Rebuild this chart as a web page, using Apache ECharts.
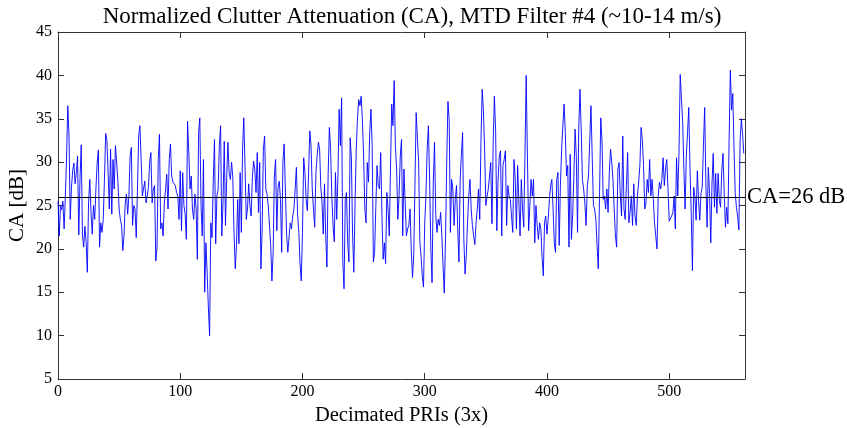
<!DOCTYPE html>
<html><head><meta charset="utf-8">
<script src="https://cdn.jsdelivr.net/npm/echarts@6/dist/echarts.min.js"></script>
<style>html,body{margin:0;padding:0;background:#fff}#c{width:847px;height:428px}</style>
</head><body><div id="c"></div>
<script>
const xTicks = [0, 100, 200, 300, 400, 500];
const yTicks = [5, 10, 15, 20, 25, 30, 35, 40, 45];
const caRef = 26;
const seg1 = [25.5,21.5,25,24.5,25.5,22.3,26,30.5,36.5,33,23.4,27,29,29.9,27.5,28.8,30.7,21.6,28,32,21.6,20.2,22.6,20.8,17.3,25.3,28,24.2,21.7,25,23.4,26.9,29.8,31.4,20.2,23,21.9,23.4,28,33.3,32.5,28.8,24.6,31.5,24,30.3,26.9,31.9];
const seg2 = [31.9,27.8,24.6,23.4,22.7,19.8,21.5,25.3,26.3,24,26.1,30.7,31.7,22.7,25,24.6,21.3,26.9,33,34.2,30.3,26.1,25.9,27.8,25.3,26.1,27.1,30,31.1,25.3,26.9,27.3,18.6,20.2,30.3,33.2,22.3,23,21.5,25.3,26.9,28.6,24.6,30.3,32.1,28.4,27.7];
const seg3 = [27.8,27.3,26.5,26.1,23.4,29,22.1,28.8,25,24,21.1,34.7,31.1,26.9,28.4,24.6,23.4,26.3,24.6,18.8,33.4,35.1,25,21.5,30.3,15,20.7,17.3,13.3,10,23,21.3,27.7,32.6,20.6,26.1,26.9,31.9,34.2,21.5,25.3,32.4,22.7,28.2,32.3,28.8,28];
const seg4 = [30,28.2,21.9,17.7,20.4,25.7,20.6,28.8,21.9,31.7,35.1,29.4,23.4,24.6,27.5,25,23.8,28.2,30.1,29.2,26.5,31.1,24.2,29.95,17.7,22.3,31.5,33,26.9,26.3,25,25,20.4,16.3,19.6,28.4,30.3,22.1,27.1,27.8,25.7,19.6,30.1,32.1,26.9,21.7,19.6];
const seg5 = [19.6,23,22.3,23.8,24.6,26.9,29.4,24,21.9,18.3,16.3,21.9,30.5,28.8,25.7,24.4,28.8,33.6,31.9,26.9,24.6,22.5,28.8,30.7,32.3,31.5,27.1,25.3,21.7,27.5,21.5,17.9,28.6,34,31.5,26.1,22.7,20.8,28.8,23.4,28.4,36.1,31.9,37.4,18.5,15.4,25.7];
const seg6 = [26.5,20.7,18.5,32.8,30.5,21.5,17.3,25.3,31.5,35.1,37.2,36.5,37.6,34.9,30.7,24.6,23,29.95,27.7,33.4,36.1,31.9,18.5,19.6,24.9,29.6,27.3,26.9,31.1,23.8,18.8,20.7,18.3,26.5,24.6,21.5,29.2,36.7,34.2,39.4,31.9,29.2,23.4,26.1,30.7,32.6,21.5];
const seg7 = [29.2,25.3,21.5,22.3,22.7,24.6,19.9,16.7,19.2,27.3,35.7,32.8,30.1,20.9,19.2,16.9,15.6,23,26.1,31.5,34.2,28,20,16.1,27.7,32.3,24,21.9,23.4,22.7,24.2,21.5,18.1,14.9,21.1,29.95,37,34.9,21.9,28,26.9,22.7,25.7,27.3,22.3,18.5,28];
const seg8 = [30.9,33.4,21.1,17.1,19.2,23,26.1,28,24.6,22.7,21.5,20.5,23,24.6,26.9,23.4,32.4,38.4,35.9,31.5,25,26.1,26.9,28.4,29.95,22.9,32.3,37.6,33.6,22.1,28,30.7,31.3,21.5,29.6,30.3,31.3,22.7,27.3,26.1,25.7,23.8,21.9,30.3,28.2,22.3,29.6];
const seg9 = [29.6,21.5,28,24.6,22.5,30.7,40,30.7,22.1,25,28,26.1,28,20.7,25,22.7,21.1,23,22.3,19,16.9,23,23.8,21.7,23.4,25.7,27.3,28,24.6,20.7,19.6,28,28.8,20.4,27.3,31.5,34.2,36.7,33.4,28.4,29.6,20.2,30.9,21.1,23.8,28.4,33.8];
const seg10 = [30.7,21.9,33.9,38.4,33.8,28,26.9,25.3,22.7,27.3,28.4,32.6,36.5,30.7,25,24.6,23.4,20.4,17.7,26.3,35.1,32.6,25.7,26.1,24.6,26.9,24.2,28.8,31.5,29.95,28,24.6,21.5,20.2,29.2,29.95,26.1,23.8,33,24.6,23.4,27.3,31.1,23,24.2,26.1,22.7];
const seg11 = [27.5,23.8,22.7,26.1,27.7,29.6,34,32.6,29.6,24.6,25.3,28,26.5,30.3,26.1,28,25.7,23,21.5,20,26.1,27.7,26.9,28,30.5,27.3,29.2,30.3,26.9,23.2,23,23.8,24.2,26.1,22.3,30.5,26.1,31.1,40.1,37.4,34.6,29.2,24.6,30.7,33.4,36.3,29.2];
const seg12 = [24.2,17.5,27.1,26,23.3,29,25.6,23.3,26.4,27.1,31.9,36.3,27.5,22.5,29.4,26.4,20.7,27.5,31,24.8,28.7,24.1,28.7,25.6,24.8,29,31,26.4,22.5,24.8,22.9,32.5,40.6,36,37.9,31.7,26.4,24.8,23.7,22.2,32.5,35,33.3,31];

const ca = [].concat(seg1,seg2,seg3,seg4,seg5,seg6,seg7,seg8,seg9,seg10,seg11,seg12);
const xMax = 562;
const data = ca.map((v, i) => [i, v]);

const serif = "'Liberation Serif', 'DejaVu Serif', serif";
const frame = '#333';
const chart = echarts.init(document.getElementById('c'), null, {renderer: 'canvas'});
const baseX = {
  type: 'value', min: 0, max: xMax, interval: 100,
  axisLine: {show: true, onZero: false, lineStyle: {color: frame, width: 1}},
  axisTick: {show: true, inside: true, length: 6, lineStyle: {color: frame}},
  splitLine: {show: false}
};
const baseY = {
  type: 'value', min: 5, max: 45, interval: 5,
  axisLine: {show: true, onZero: false, lineStyle: {color: frame, width: 1}},
  axisTick: {show: true, inside: true, length: 6, lineStyle: {color: frame}},
  splitLine: {show: false}
};
chart.setOption({
  animation: false,
  backgroundColor: '#fff',
  title: {
    text: 'Normalized Clutter Attenuation (CA), MTD Filter #4 (~10-14 m/s)',
    left: 407, top: 0, textAlign: 'center',
    textStyle: {fontFamily: serif, fontSize: 23, fontWeight: 'normal', color: '#000'}
  },
  grid: {left: 58, right: 102, top: 32, bottom: 49, containLabel: false, outerBoundsMode: 'none'},
  xAxis: [
    Object.assign({}, baseX, {
      position: 'bottom',
      name: 'Decimated PRIs (3x)', nameLocation: 'middle', nameGap: 24,
      nameTextStyle: {fontFamily: serif, fontSize: 20.5, color: '#000'},
      axisLabel: {show: true, margin: 5, fontFamily: serif, fontSize: 16, color: '#000',
        formatter: v => (xTicks.indexOf(v) >= 0 ? String(v) : '')}
    }),
    Object.assign({}, baseX, {position: 'top', axisLabel: {show: false}})
  ],
  yAxis: [
    Object.assign({}, baseY, {
      position: 'left',
      name: 'CA [dB]', nameLocation: 'middle', nameGap: 30, nameRotate: 90,
      nameMoveOverlap: false,
      nameTextStyle: {fontFamily: serif, fontSize: 21, color: '#000'},
      axisLabel: {show: true, margin: 6, fontFamily: serif, fontSize: 16, color: '#000',
        formatter: v => (yTicks.indexOf(v) >= 0 ? String(v) : '')}
    }),
    Object.assign({}, baseY, {position: 'right', axisLabel: {show: false}})
  ],
  series: [{
    type: 'line',
    data: data,
    xAxisIndex: 0, yAxisIndex: 0,
    showSymbol: false,
    symbol: 'none',
    lineStyle: {color: '#0000ff', width: 0.9},
    markLine: {
      silent: true,
      symbol: 'none',
      lineStyle: {color: '#000', width: 1, type: 'solid'},
      label: {show: true, position: 'end', distance: 2, formatter: 'CA=26 dB',
        fontFamily: serif, fontSize: 22.5, color: '#000'},
      data: [{yAxis: caRef}]
    }
  }]
});
</script>
</body></html>
